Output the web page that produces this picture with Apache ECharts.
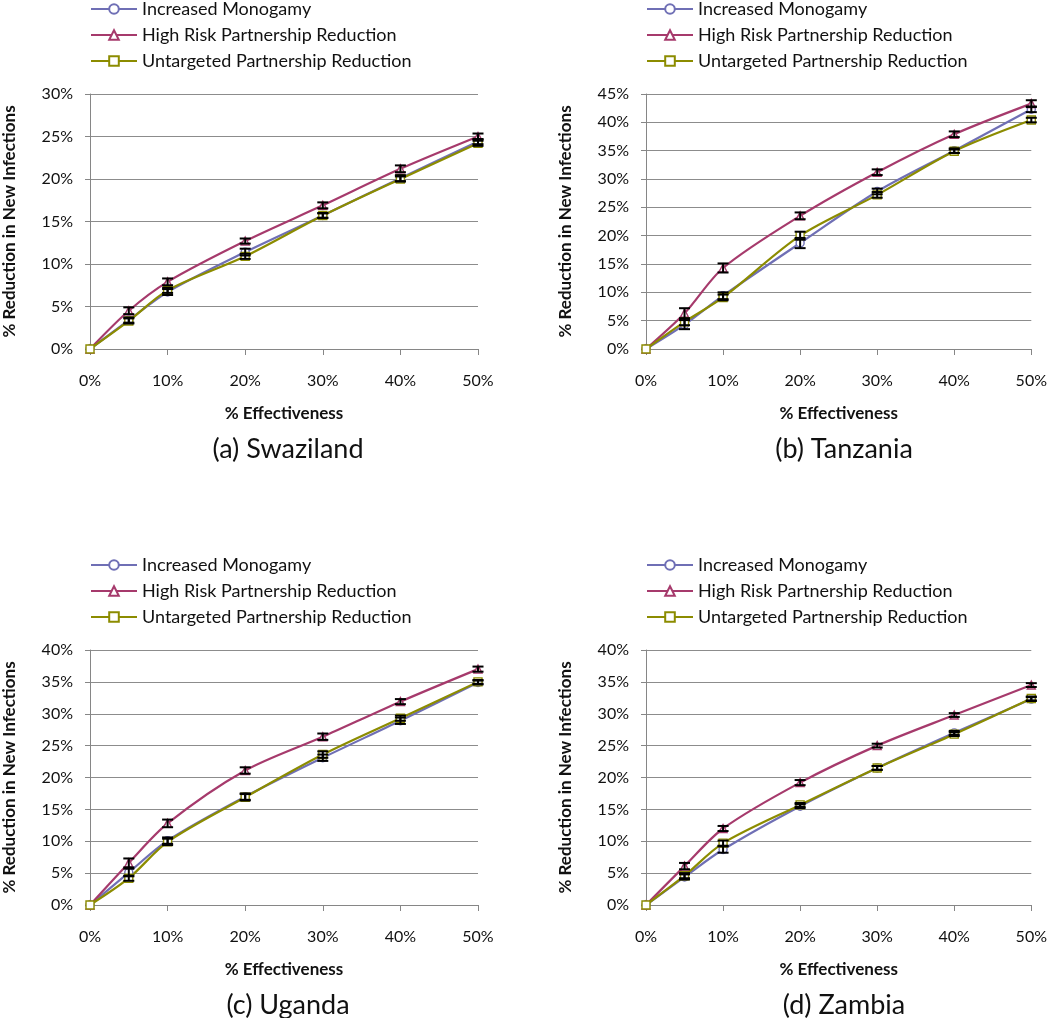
<!DOCTYPE html>
<html>
<head>
<meta charset="utf-8">
<script src="https://cdn.jsdelivr.net/npm/echarts@6/dist/echarts.min.js"></script>
<style>
html,body{margin:0;padding:0;background:#fff;}
#chart{width:1050px;height:1018px;}
</style>
</head>
<body>
<div id="chart"></div>
<script>
// ---- data ----
const xValues = [0, 5, 10, 20, 30, 40, 50];
const seriesNames = ['Increased Monogamy', 'High Risk Partnership Reduction', 'Untargeted Partnership Reduction'];
const panelCaptions = ['(a) Swaziland', '(b) Tanzania', '(c) Uganda', '(d) Zambia'];
const yMaxima = [30, 45, 40, 40];

const swazilandMono = [0, 3.4, 6.7, 11.4, 15.7, 20.1, 24.4];
const swazilandHigh = [0, 4.5, 7.9, 12.7, 16.9, 21.2, 25.0];
const swazilandUnt  = [0, 3.3, 6.9, 10.9, 15.7, 20.0, 24.2];
const swazilandMonoErr = [0, 0.3, 0.35, 0.4, 0.3, 0.35, 0.3];
const swazilandHighErr = [0, 0.4, 0.4, 0.3, 0.35, 0.4, 0.35];
const swazilandUntErr  = [0, 0.3, 0.3, 0.3, 0.25, 0.3, 0.3];

const tanzaniaMono = [0, 4.3, 9.4, 18.7, 27.8, 35.0, 42.3];
const tanzaniaHigh = [0, 6.3, 14.3, 23.5, 31.2, 37.9, 43.3];
const tanzaniaUnt  = [0, 4.8, 9.1, 20.0, 27.2, 34.9, 40.4];
const tanzaniaMonoErr = [0, 0.8, 0.6, 0.9, 0.5, 0.4, 0.5];
const tanzaniaHighErr = [0, 0.9, 0.8, 0.6, 0.5, 0.5, 0.6];
const tanzaniaUntErr  = [0, 0.6, 0.5, 0.7, 0.5, 0.3, 0.4];

const ugandaMono = [0, 5.1, 10.1, 17.0, 23.1, 28.9, 34.9];
const ugandaHigh = [0, 6.6, 12.8, 21.1, 26.4, 31.9, 37.0];
const ugandaUnt  = [0, 4.2, 9.9, 16.9, 23.6, 29.3, 35.0];
const ugandaMonoErr = [0, 0.6, 0.5, 0.5, 0.5, 0.5, 0.3];
const ugandaHighErr = [0, 0.7, 0.6, 0.5, 0.5, 0.4, 0.4];
const ugandaUntErr  = [0, 0.4, 0.5, 0.5, 0.5, 0.4, 0.3];

const zambiaMono = [0, 4.4, 8.7, 15.5, 21.5, 27.0, 32.3];
const zambiaHigh = [0, 6.1, 12.0, 19.2, 25.0, 29.8, 34.5];
const zambiaUnt  = [0, 4.6, 9.7, 15.7, 21.5, 26.8, 32.4];
const zambiaMonoErr = [0, 0.4, 0.5, 0.3, 0.3, 0.3, 0.3];
const zambiaHighErr = [0, 0.5, 0.4, 0.4, 0.3, 0.3, 0.3];
const zambiaUntErr  = [0, 0.4, 0.4, 0.3, 0.3, 0.3, 0.3];

const panelValues = [
  [swazilandMono, swazilandHigh, swazilandUnt],
  [tanzaniaMono, tanzaniaHigh, tanzaniaUnt],
  [ugandaMono, ugandaHigh, ugandaUnt],
  [zambiaMono, zambiaHigh, zambiaUnt]
];
const panelErrors = [
  [swazilandMonoErr, swazilandHighErr, swazilandUntErr],
  [tanzaniaMonoErr, tanzaniaHighErr, tanzaniaUntErr],
  [ugandaMonoErr, ugandaHighErr, ugandaUntErr],
  [zambiaMonoErr, zambiaHighErr, zambiaUntErr]
];

// ---- styling / layout ----
const FONT = 'Lato, "Open Sans", sans-serif';
const colors = ['#6f6fb5', '#a63a6c', '#8c8c00'];
const symbols = ['circle', 'triangle', 'rect'];
const panels = [
  {left: 90, top: 94},
  {left: 646, top: 94},
  {left: 90, top: 650},
  {left: 646, top: 650}
];
const GW = 388, GH = 255;

const chart = echarts.init(document.getElementById('chart'), null, {renderer: 'canvas'});

const grids = [], xAxes = [], yAxes = [], series = [], legends = [], graphics = [];
panels.forEach((p, i) => {
  grids.push({left: p.left, top: p.top, width: GW, height: GH, containLabel: false});
  xAxes.push({
    type: 'value', gridIndex: i, min: 0, max: 50, interval: 10,
    name: '% Effectiveness', nameLocation: 'middle', nameGap: 56,
    nameTextStyle: {fontFamily: FONT, fontSize: 17, fontWeight: 'bold', color: '#111'},
    axisLine: {show: true, lineStyle: {color: '#868686', width: 1}},
    axisTick: {show: true, length: 6, lineStyle: {color: '#868686'}},
    axisLabel: {formatter: '{value}%', margin: 24, fontFamily: FONT, fontSize: 16, color: '#111'},
    splitLine: {show: false}
  });
  yAxes.push({
    type: 'value', gridIndex: i, min: 0, max: yMaxima[i], interval: 5,
    name: '% Reduction in New Infections', nameLocation: 'middle', nameGap: 72, nameRotate: 90,
    nameTextStyle: {fontFamily: FONT, fontSize: 17, fontWeight: 'bold', color: '#111'},
    axisLine: {show: true, lineStyle: {color: '#868686', width: 1}},
    axisTick: {show: true, length: 5, lineStyle: {color: '#868686'}},
    axisLabel: {formatter: '{value}%', margin: 17, fontFamily: FONT, fontSize: 16, color: '#111'},
    splitLine: {show: true, lineStyle: {color: '#8c8c8c', width: 1}}
  });
  legends.push({
    left: p.left, top: p.top - 94, orient: 'vertical', padding: 0,
    itemWidth: 46, itemHeight: 12, itemGap: 8,
    data: seriesNames,
    textStyle: {fontFamily: FONT, fontSize: 18, color: '#111'}
  });
  graphics.push({
    type: 'text', x: p.left + GW / 2 + 4, y: p.top + GH + 100,
    style: {text: panelCaptions[i], font: '27px ' + FONT, fill: '#111', textAlign: 'center', textVerticalAlign: 'middle'}
  });
  seriesNames.forEach((name, k) => {
    series.push({
      name: name, type: 'line', xAxisIndex: i, yAxisIndex: i,
      smooth: 0.3, symbol: symbols[k], symbolSize: 8,
      lineStyle: {color: colors[k], width: 2.2},
      itemStyle: {color: '#ffffff', borderColor: colors[k], borderWidth: 1.4},
      data: xValues.map((x, j) => [x, panelValues[i][k][j]]),
      z: 2
    });
  });
  seriesNames.forEach((name, k) => {
    series.push({
      name: name, type: 'custom', xAxisIndex: i, yAxisIndex: i, z: 5,
      silent: true,
      data: xValues.map((x, j) => [x, panelValues[i][k][j], panelErrors[i][k][j]]),
      renderItem: function (params, api) {
        const x = api.value(0), y = api.value(1), e = api.value(2);
        if (!e) return null;
        const lo = api.coord([x, y - e]);
        const hi = api.coord([x, y + e]);
        const hw = 5.5;
        const st = {stroke: '#000', lineWidth: 2, fill: null};
        return {
          type: 'group',
          children: [
            {type: 'line', shape: {x1: lo[0], y1: lo[1], x2: hi[0], y2: hi[1]}, style: st},
            {type: 'line', shape: {x1: lo[0] - hw, y1: lo[1], x2: lo[0] + hw, y2: lo[1]}, style: st},
            {type: 'line', shape: {x1: hi[0] - hw, y1: hi[1], x2: hi[0] + hw, y2: hi[1]}, style: st}
          ]
        };
      }
    });
  });
});

chart.setOption({
  animation: false,
  backgroundColor: '#ffffff',
  grid: grids,
  xAxis: xAxes,
  yAxis: yAxes,
  legend: legends,
  graphic: graphics,
  series: series
});
</script>
</body>
</html>
